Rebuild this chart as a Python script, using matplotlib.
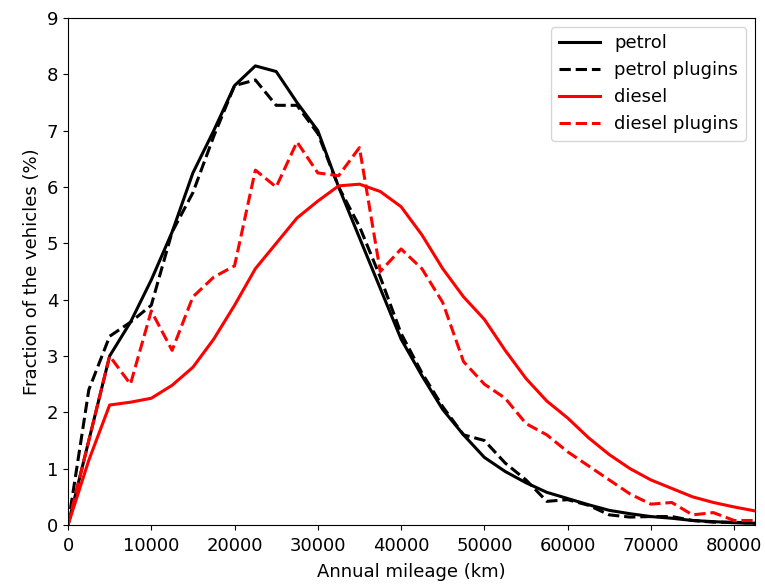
import matplotlib
matplotlib.use("Agg")
import matplotlib.pyplot as plt
import numpy as np

mileage = np.arange(0, 82501, 2500)

petrol = [0, 1.5, 3.0, 3.6, 4.35, 5.2, 6.25, 7.0, 7.8, 8.15, 8.05, 7.5, 7.0,
          6.0, 5.1, 4.2, 3.3, 2.65, 2.05, 1.6, 1.2, 0.95, 0.75, 0.58, 0.47,
          0.36, 0.26, 0.2, 0.15, 0.12, 0.08, 0.06, 0.04, 0.03]
petrol_plugins = [0, 2.4, 3.35, 3.6, 3.9, 5.2, 5.9, 6.9, 7.8, 7.9, 7.45, 7.45,
                  6.95, 6.0, 5.3, 4.4, 3.4, 2.7, 2.1, 1.6, 1.5, 1.1, 0.8, 0.42,
                  0.45, 0.35, 0.18, 0.14, 0.15, 0.15, 0.08, 0.05, 0.05, 0.03]
diesel = [0, 1.15, 2.13, 2.18, 2.25, 2.48, 2.8, 3.3, 3.9, 4.55, 5.0, 5.45,
          5.75, 6.02, 6.05, 5.92, 5.65, 5.15, 4.55, 4.05, 3.65, 3.1, 2.6, 2.2,
          1.9, 1.55, 1.25, 1.0, 0.8, 0.65, 0.5, 0.4, 0.32, 0.25]
diesel_plugins = [0, 1.5, 3.0, 2.5, 3.8, 3.1, 4.05, 4.4, 4.6, 6.3, 6.0, 6.8,
                  6.25, 6.2, 6.7, 4.5, 4.9, 4.55, 3.95, 2.9, 2.5, 2.25, 1.8, 1.6,
                  1.3, 1.05, 0.8, 0.55, 0.37, 0.4, 0.18, 0.22, 0.08, 0.08]

plt.rcParams['font.size'] = 13
fig = plt.figure(figsize=(7.65, 5.84), dpi=100)
ax = fig.add_axes([68/765, 1 - 525/584, (755-68)/765, (525-18)/584])

lw = 2.2
ax.plot(mileage, petrol, color='black', lw=lw, label='petrol')
ax.plot(mileage, petrol_plugins, color='black', lw=lw, ls='--', label='petrol plugins')
ax.plot(mileage, diesel, color='red', lw=lw, label='diesel')
ax.plot(mileage, diesel_plugins, color='red', lw=lw, ls='--', label='diesel plugins')

ax.set_xlim(0, 82500)
ax.set_ylim(0, 9)
ax.set_xticks(np.arange(0, 80001, 10000))
ax.set_yticks(np.arange(0, 10, 1))
ax.tick_params(axis='x', pad=5)
ax.set_xlabel('Annual mileage (km)', labelpad=6)
ax.set_ylabel('Fraction of the vehicles (%)')
ax.legend(loc='upper right', fontsize=13, handlelength=2.3)

fig.savefig('out.png', dpi=100)
